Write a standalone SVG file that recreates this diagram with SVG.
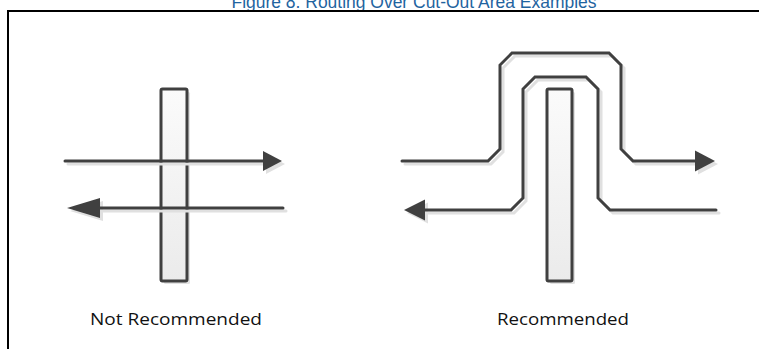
<svg xmlns="http://www.w3.org/2000/svg" width="759" height="349" viewBox="0 0 759 349">
<style>
.title{font-family:"Liberation Sans",Arial,sans-serif;font-size:17.5px;fill:#1f64a0}
.lbl{font-family:"Open Sans","Liberation Sans",Arial,sans-serif;font-size:16px;fill:#111}
.bar{fill:url(#barg);stroke:#404040;stroke-width:3}
.barsh{fill:#e2e2e2}
.tr{fill:none;stroke:#404040;stroke-width:3;stroke-linecap:round;stroke-linejoin:miter}
.trsh{fill:none;stroke:#e0e0e0;stroke-width:3;stroke-linecap:round}
.hd{fill:#404040}
.hdsh{fill:#e0e0e0}
</style>
<defs>
<linearGradient id="barg" x1="0" y1="0" x2="0" y2="1">
<stop offset="0" stop-color="#fbfbfb"/>
<stop offset="1" stop-color="#ebebeb"/>
</linearGradient>
</defs>
<rect width="759" height="349" fill="#fff"/>
<text class="title" x="414" y="8" text-anchor="middle" textLength="365" lengthAdjust="spacingAndGlyphs">Figure 8. Routing Over Cut-Out Area Examples</text>
<path d="M8,349 V11 H759" fill="none" stroke="#000" stroke-width="2"/>

<g id="left-bar">
<rect class="barsh" x="164" y="92" width="26" height="192" rx="1.5"/>
<rect class="bar" x="161" y="89" width="26" height="192" rx="1.5"/>
</g>
<g id="right-bar">
<rect class="barsh" x="550" y="92" width="25" height="192" rx="1.5"/>
<rect class="bar" x="547" y="89" width="25" height="192" rx="1.5"/>
</g>

<g id="connectors">
<g transform="translate(3,3)">
<path class="trsh" d="M65,161 H263"/>
<polygon class="hdsh" points="263,151 282,161 263,171"/>
<path class="trsh" d="M283,208 H100"/>
<polygon class="hdsh" points="100,198 67,208 100,218"/>
<path class="trsh" d="M402,161 H488 L500,149 V65 L512,53 H609 L621,65 V149 L633,161 H695"/>
<polygon class="hdsh" points="695,150.5 715,161 695,171.5"/>
<path class="trsh" d="M716,210 H610 L598,198 V89 L586,77 H535 L523,89 V198 L511,210 H425"/>
<polygon class="hdsh" points="425,199.5 404,210 425,220.5"/>
</g>
<path class="tr" d="M65,161 H263"/>
<polygon class="hd" points="263,151 282,161 263,171"/>
<path class="tr" d="M283,208 H100"/>
<polygon class="hd" points="100,198 67,208 100,218"/>
<path class="tr" d="M402,161 H488 L500,149 V65 L512,53 H609 L621,65 V149 L633,161 H695"/>
<polygon class="hd" points="695,150.5 715,161 695,171.5"/>
<path class="tr" d="M716,210 H610 L598,198 V89 L586,77 H535 L523,89 V198 L511,210 H425"/>
<polygon class="hd" points="425,199.5 404,210 425,220.5"/>
</g>

<g id="label-not-recommended">
<text class="lbl" x="176" y="325" text-anchor="middle" textLength="172" lengthAdjust="spacingAndGlyphs">Not Recommended</text>
</g>
<g id="label-recommended">
<text class="lbl" x="563" y="325" text-anchor="middle" textLength="132" lengthAdjust="spacingAndGlyphs">Recommended</text>
</g>
</svg>
